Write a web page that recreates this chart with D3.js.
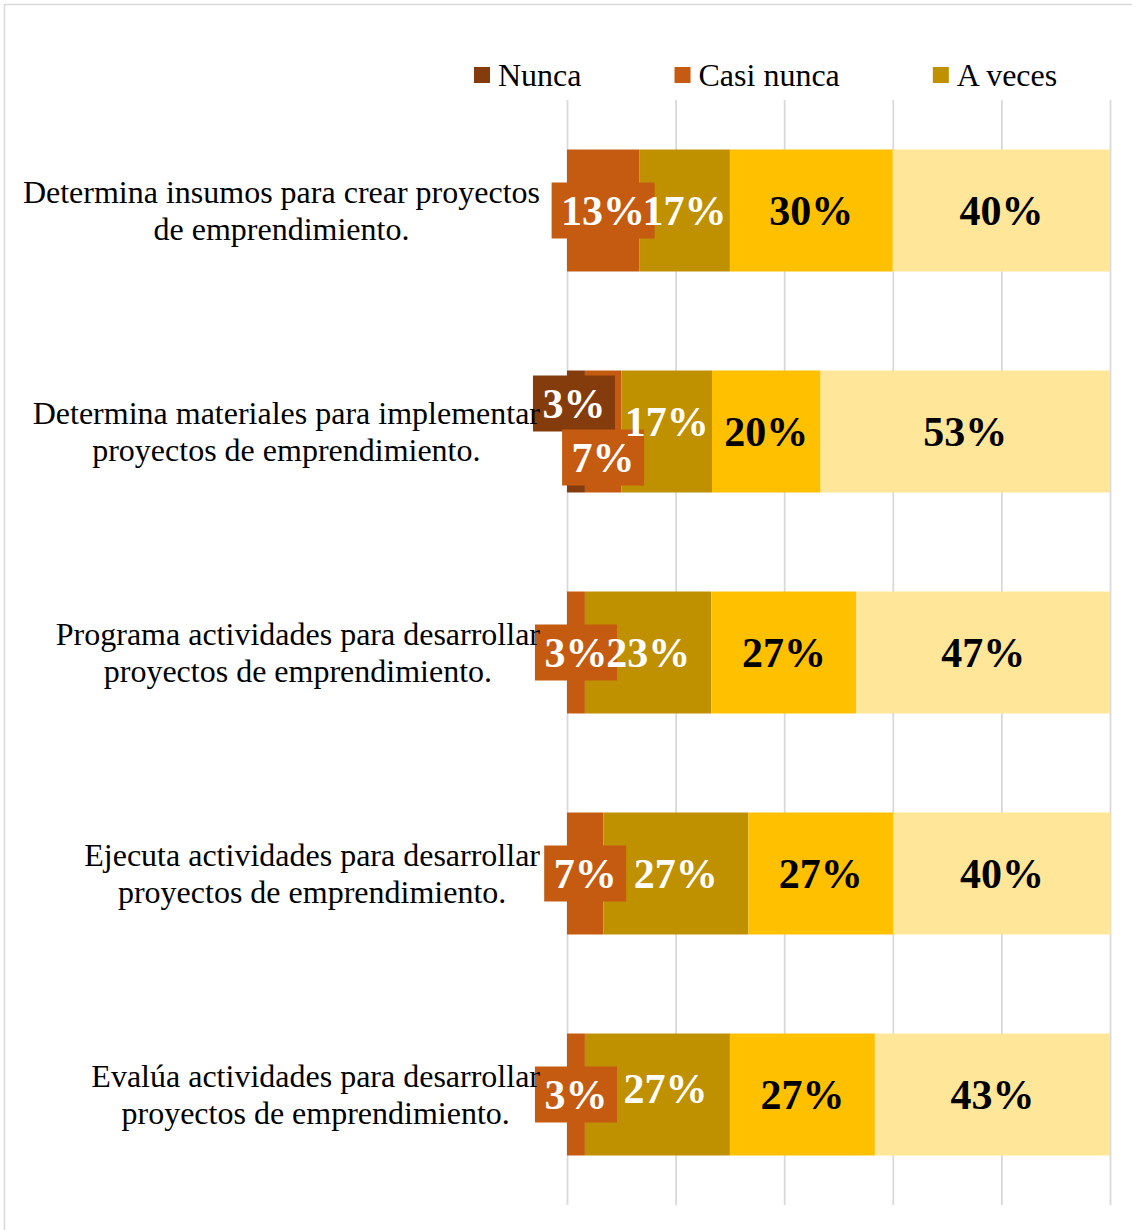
<!DOCTYPE html>
<html>
<head>
<meta charset="utf-8">
<script src="https://cdn.jsdelivr.net/npm/d3@7"></script>
<style>
html,body{margin:0;padding:0;background:#fff;}
svg{display:block;}
text{font-family:"Liberation Serif","Times New Roman",serif;}
</style>
</head>
<body>
<svg id="chart" width="1132" height="1230"></svg>
<script>
// ---- data ----
const categories = [
  ["Determina insumos para crear proyectos", "de emprendimiento."],
  ["Determina materiales para implementar", "proyectos de emprendimiento."],
  ["Programa actividades para desarrollar", "proyectos de emprendimiento."],
  ["Ejecuta actividades para desarrollar", "proyectos de emprendimiento."],
  ["Evalúa actividades para desarrollar", "proyectos de emprendimiento."]
];
const seriesNames = ["Nunca", "Casi nunca", "A veces", "Casi siempre", "Siempre"];
const nunca       = [0,    3.3, 0,    0,    0];
const casiNunca   = [13.3, 6.7, 3.3,  6.7,  3.3];
const aVeces      = [16.7, 16.7, 23.3, 26.7, 26.7];
const casiSiempre = [30,   20,  26.7, 26.7, 26.7];
const siempre     = [40,   53.3, 46.7, 40,   43.3];
const tickValues  = [0, 20, 40, 60, 80, 100];

// ---- style ----
const colors = ["#843C0C", "#C55A11", "#BF9000", "#FFC000", "#FFE699"];
const labelColors = ["#fff", "#fff", "#fff", "#000", "#000"];
const boxed = [true, true, false, false, false];
// label adjustments (row-series) -> [dx, dy]
const labelShift = {"1-0": [-2, -28], "1-1": [0, 26], "1-2": [0, -10], "4-2": [8, -6]};

const seriesValues = [nunca, casiNunca, aVeces, casiSiempre, siempre];
const W = 1132;
const svg = d3.select("#chart");

// outer border
svg.append("rect").attr("x", 4.5).attr("y", 4.5).attr("width", 1150).attr("height", 1250)
  .attr("fill", "none").attr("stroke", "#d9d9d9").attr("stroke-width", 1.5);

const x = d3.scaleLinear().domain([0, 100]).range([567, 1110]);
const y = d3.scaleBand().domain(d3.range(categories.length)).range([100, 1205])
  .paddingInner(0.448).paddingOuter(0.224);

// gridlines
const grid = svg.append("g").attr("transform", "translate(0,100)")
  .call(d3.axisTop(x).tickValues(tickValues).tickSize(-1105).tickFormat(""));
grid.select(".domain").remove();
grid.selectAll(".tick line").attr("stroke", "#d9d9d9").attr("stroke-width", 1.8);

// stacked data
const rows = categories.map((c, i) => {
  const o = {idx: i};
  seriesNames.forEach((s, j) => o[s] = seriesValues[j][i]);
  return o;
});
const stack = d3.stack().keys(seriesNames)(rows);

const gBars = svg.append("g");
stack.forEach((layer, j) => {
  gBars.selectAll(null).data(layer).enter().append("rect")
    .attr("x", d => x(d[0]))
    .attr("y", d => y(d.data.idx))
    .attr("width", d => x(d[1]) - x(d[0]))
    .attr("height", y.bandwidth())
    .attr("fill", colors[j]);
});

// labels
const fs = 42;
const gLab = svg.append("g");
stack.forEach((layer, j) => {
  layer.forEach(d => {
    const v = d[1] - d[0];
    if (v <= 0) return;
    const i = d.data.idx;
    const sh = labelShift[i + "-" + j] || [0, 0];
    const cx = (x(d[0]) + x(d[1])) / 2 + sh[0];
    const cy = y(i) + y.bandwidth() / 2 + sh[1];
    const txt = Math.round(v) + "%";
    const g = gLab.append("g");
    const t = g.append("text")
      .attr("x", cx).attr("y", cy + fs * 0.34)
      .attr("text-anchor", "middle")
      .attr("font-size", fs).attr("font-weight", "bold")
      .attr("fill", labelColors[j])
      .text(txt);
    if (boxed[j]) {
      const w = t.node().getComputedTextLength() + 19;
      g.insert("rect", "text")
        .attr("x", cx - w / 2).attr("y", cy - 28)
        .attr("width", w).attr("height", 56)
        .attr("fill", colors[j]);
    }
  });
});

// category labels
const gCat = svg.append("g");
categories.forEach((lines, i) => {
  const cy = y(i) + y.bandwidth() / 2;
  const g = gCat.append("g");
  const texts = lines.map((l, k) => g.append("text")
    .attr("y", cy - 18.5 + k * 37 + 10.5)
    .attr("font-size", 32).attr("fill", "#000")
    .attr("text-anchor", "middle").text(l));
  const maxW = d3.max(texts, t => t.node().getComputedTextLength());
  texts.forEach(t => t.attr("x", 540 - maxW / 2));
});

// legend (entries that fall past the chart's right edge are not visible, as in the original)
const gLeg = svg.append("g");
let lx = 474;
seriesNames.forEach((s, j) => {
  if (lx + 24 >= W) return;
  gLeg.append("rect").attr("x", lx).attr("y", 67).attr("width", 16).attr("height", 16).attr("fill", colors[j]);
  const t = gLeg.append("text").attr("x", lx + 24).attr("y", 85.5)
    .attr("font-size", 32).attr("fill", "#000").text(s);
  lx = lx + 24 + t.node().getComputedTextLength() + 93;
});
</script>
</body>
</html>
